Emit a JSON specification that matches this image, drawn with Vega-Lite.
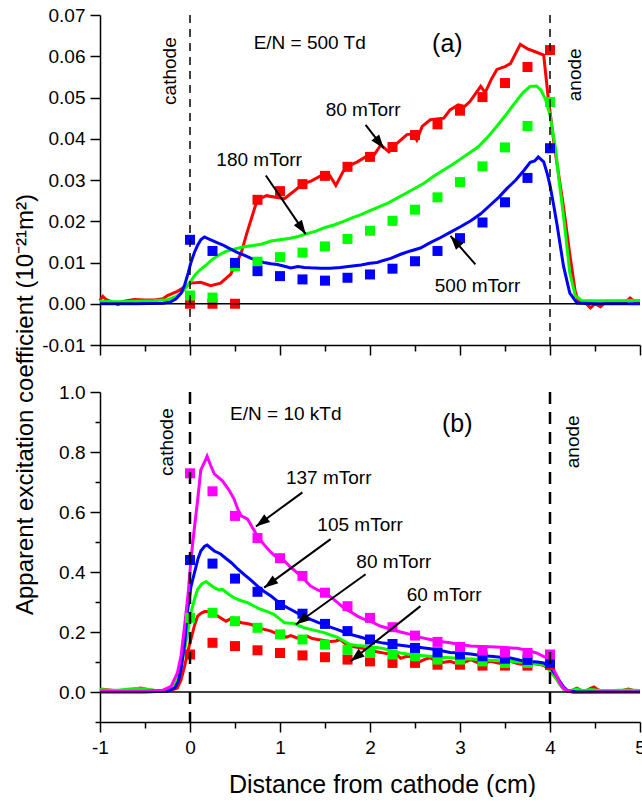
{
"$schema": "https://vega.github.io/schema/vega-lite/v6.json",
"padding": {"left": 13, "top": 6, "right": 0, "bottom": 0},
"spacing": 47,
"bounds": "flush",
"config": {
 "view": {"stroke": null},
 "axis": {"labelFont": "Liberation Sans", "labelFontSize": 19, "labelColor": "black", "titleFont": "Liberation Sans", "titleFontSize": 24, "titleFontWeight": "normal", "titleColor": "black", "domainColor": "black", "tickColor": "black", "domainWidth": 1.5, "tickWidth": 1.5, "grid": false, "labelPadding": 5, "labelOverlap": false, "labelFlush": false, "labelBound": false},
 "text": {"font": "Liberation Sans", "fontSize": 19, "color": "black"}
},
"datasets": {
 "a_line": [
  {"s":"a80","x":-1.0,"y":0.0008},{"s":"a80","x":-0.97,"y":0.0018},{"s":"a80","x":-0.93,"y":0.001},{"s":"a80","x":-0.85,"y":0.0003},{"s":"a80","x":-0.8,"y":-0.0002},{"s":"a80","x":-0.73,"y":0.0006},{"s":"a80","x":-0.62,"y":0.001},{"s":"a80","x":-0.5,"y":0.0009},{"s":"a80","x":-0.39,"y":0.0009},{"s":"a80","x":-0.3,"y":0.0012},{"s":"a80","x":-0.25,"y":0.002},{"s":"a80","x":-0.14,"y":0.003},{"s":"a80","x":-0.05,"y":0.0042},{"s":"a80","x":0.01,"y":0.005},{"s":"a80","x":0.12,"y":0.0052},{"s":"a80","x":0.23,"y":0.0044},{"s":"a80","x":0.34,"y":0.005},{"s":"a80","x":0.45,"y":0.0071},{"s":"a80","x":0.52,"y":0.01},{"s":"a80","x":0.57,"y":0.0124},{"s":"a80","x":0.63,"y":0.017},{"s":"a80","x":0.68,"y":0.0205},{"s":"a80","x":0.73,"y":0.024},{"s":"a80","x":0.77,"y":0.0254},{"s":"a80","x":0.85,"y":0.0262},{"s":"a80","x":0.95,"y":0.0258},{"s":"a80","x":1.05,"y":0.0255},{"s":"a80","x":1.15,"y":0.0272},{"s":"a80","x":1.25,"y":0.029},{"s":"a80","x":1.35,"y":0.0298},{"s":"a80","x":1.45,"y":0.031},{"s":"a80","x":1.55,"y":0.0312},{"s":"a80","x":1.62,"y":0.0287},{"s":"a80","x":1.7,"y":0.032},{"s":"a80","x":1.75,"y":0.0333},{"s":"a80","x":1.86,"y":0.0344},{"s":"a80","x":1.95,"y":0.0356},{"s":"a80","x":2.05,"y":0.0362},{"s":"a80","x":2.12,"y":0.0385},{"s":"a80","x":2.21,"y":0.0368},{"s":"a80","x":2.3,"y":0.0389},{"s":"a80","x":2.41,"y":0.041},{"s":"a80","x":2.48,"y":0.0412},{"s":"a80","x":2.52,"y":0.0397},{"s":"a80","x":2.58,"y":0.043},{"s":"a80","x":2.67,"y":0.0446},{"s":"a80","x":2.82,"y":0.045},{"s":"a80","x":2.89,"y":0.047},{"s":"a80","x":2.98,"y":0.0482},{"s":"a80","x":3.05,"y":0.0478},{"s":"a80","x":3.11,"y":0.049},{"s":"a80","x":3.23,"y":0.0527},{"s":"a80","x":3.28,"y":0.0512},{"s":"a80","x":3.35,"y":0.0545},{"s":"a80","x":3.41,"y":0.0568},{"s":"a80","x":3.5,"y":0.0575},{"s":"a80","x":3.56,"y":0.0582},{"s":"a80","x":3.67,"y":0.0629},{"s":"a80","x":3.75,"y":0.0618},{"s":"a80","x":3.8,"y":0.0614},{"s":"a80","x":3.93,"y":0.0603},{"s":"a80","x":3.98,"y":0.05},{"s":"a80","x":4.05,"y":0.038},{"s":"a80","x":4.15,"y":0.0235},{"s":"a80","x":4.22,"y":0.012},{"s":"a80","x":4.28,"y":0.003},{"s":"a80","x":4.32,"y":0.0004},{"s":"a80","x":4.38,"y":0.0005},{"s":"a80","x":4.45,"y":-0.001},{"s":"a80","x":4.5,"y":0.0},{"s":"a80","x":4.56,"y":-0.0007},{"s":"a80","x":4.63,"y":0.0006},{"s":"a80","x":4.7,"y":0.0},{"s":"a80","x":4.77,"y":0.0005},{"s":"a80","x":4.83,"y":0.0002},{"s":"a80","x":4.89,"y":0.0014},{"s":"a80","x":4.95,"y":0.0003},{"s":"a80","x":5.0,"y":0.0004},
  {"s":"a180","x":-1.0,"y":0.0006},{"s":"a180","x":-0.8,"y":0.0005},{"s":"a180","x":-0.6,"y":0.0006},{"s":"a180","x":-0.4,"y":0.0007},{"s":"a180","x":-0.25,"y":0.001},{"s":"a180","x":-0.15,"y":0.0018},{"s":"a180","x":-0.08,"y":0.003},{"s":"a180","x":0.0,"y":0.0052},{"s":"a180","x":0.05,"y":0.0068},{"s":"a180","x":0.1,"y":0.008},{"s":"a180","x":0.17,"y":0.0092},{"s":"a180","x":0.25,"y":0.0108},{"s":"a180","x":0.32,"y":0.0118},{"s":"a180","x":0.4,"y":0.0127},{"s":"a180","x":0.5,"y":0.0133},{"s":"a180","x":0.6,"y":0.0138},{"s":"a180","x":0.7,"y":0.0141},{"s":"a180","x":0.8,"y":0.0145},{"s":"a180","x":0.9,"y":0.0152},{"s":"a180","x":1.0,"y":0.0155},{"s":"a180","x":1.1,"y":0.0158},{"s":"a180","x":1.2,"y":0.0163},{"s":"a180","x":1.3,"y":0.017},{"s":"a180","x":1.4,"y":0.0176},{"s":"a180","x":1.5,"y":0.0185},{"s":"a180","x":1.6,"y":0.0191},{"s":"a180","x":1.7,"y":0.0199},{"s":"a180","x":1.8,"y":0.0208},{"s":"a180","x":1.9,"y":0.0216},{"s":"a180","x":2.0,"y":0.0226},{"s":"a180","x":2.1,"y":0.0235},{"s":"a180","x":2.2,"y":0.0244},{"s":"a180","x":2.3,"y":0.0256},{"s":"a180","x":2.4,"y":0.0268},{"s":"a180","x":2.5,"y":0.028},{"s":"a180","x":2.6,"y":0.0292},{"s":"a180","x":2.7,"y":0.0308},{"s":"a180","x":2.8,"y":0.0322},{"s":"a180","x":2.9,"y":0.0335},{"s":"a180","x":3.0,"y":0.035},{"s":"a180","x":3.1,"y":0.0365},{"s":"a180","x":3.2,"y":0.038},{"s":"a180","x":3.3,"y":0.0402},{"s":"a180","x":3.4,"y":0.0428},{"s":"a180","x":3.5,"y":0.0455},{"s":"a180","x":3.6,"y":0.0484},{"s":"a180","x":3.7,"y":0.0512},{"s":"a180","x":3.78,"y":0.0527},{"s":"a180","x":3.85,"y":0.0528},{"s":"a180","x":3.9,"y":0.0518},{"s":"a180","x":3.95,"y":0.0495},{"s":"a180","x":4.0,"y":0.0458},{"s":"a180","x":4.06,"y":0.0377},{"s":"a180","x":4.1,"y":0.03},{"s":"a180","x":4.15,"y":0.0213},{"s":"a180","x":4.22,"y":0.0075},{"s":"a180","x":4.28,"y":0.002},{"s":"a180","x":4.35,"y":0.0008},{"s":"a180","x":4.5,"y":0.0007},{"s":"a180","x":4.7,"y":0.0007},{"s":"a180","x":5.0,"y":0.0008},
  {"s":"a500","x":-1.0,"y":0.0},{"s":"a500","x":-0.6,"y":0.0},{"s":"a500","x":-0.3,"y":0.0001},{"s":"a500","x":-0.22,"y":0.0004},{"s":"a500","x":-0.155,"y":0.0012},{"s":"a500","x":-0.1,"y":0.0025},{"s":"a500","x":-0.06,"y":0.0045},{"s":"a500","x":-0.02,"y":0.0075},{"s":"a500","x":0.01,"y":0.01},{"s":"a500","x":0.05,"y":0.0125},{"s":"a500","x":0.085,"y":0.0142},{"s":"a500","x":0.12,"y":0.0155},{"s":"a500","x":0.16,"y":0.0162},{"s":"a500","x":0.23,"y":0.0155},{"s":"a500","x":0.3,"y":0.0148},{"s":"a500","x":0.36,"y":0.0143},{"s":"a500","x":0.42,"y":0.0136},{"s":"a500","x":0.53,"y":0.0124},{"s":"a500","x":0.6,"y":0.0118},{"s":"a500","x":0.68,"y":0.011},{"s":"a500","x":0.75,"y":0.0104},{"s":"a500","x":0.82,"y":0.01},{"s":"a500","x":0.9,"y":0.0097},{"s":"a500","x":0.97,"y":0.0095},{"s":"a500","x":1.05,"y":0.0091},{"s":"a500","x":1.12,"y":0.0087},{"s":"a500","x":1.2,"y":0.009},{"s":"a500","x":1.27,"y":0.0088},{"s":"a500","x":1.34,"y":0.0087},{"s":"a500","x":1.45,"y":0.0086},{"s":"a500","x":1.56,"y":0.0086},{"s":"a500","x":1.67,"y":0.0088},{"s":"a500","x":1.78,"y":0.0091},{"s":"a500","x":1.9,"y":0.0094},{"s":"a500","x":2.0,"y":0.0098},{"s":"a500","x":2.08,"y":0.01},{"s":"a500","x":2.15,"y":0.0105},{"s":"a500","x":2.23,"y":0.011},{"s":"a500","x":2.34,"y":0.012},{"s":"a500","x":2.45,"y":0.0128},{"s":"a500","x":2.56,"y":0.0135},{"s":"a500","x":2.67,"y":0.0148},{"s":"a500","x":2.78,"y":0.016},{"s":"a500","x":2.89,"y":0.0173},{"s":"a500","x":3.0,"y":0.0186},{"s":"a500","x":3.12,"y":0.0201},{"s":"a500","x":3.23,"y":0.0218},{"s":"a500","x":3.34,"y":0.024},{"s":"a500","x":3.43,"y":0.0258},{"s":"a500","x":3.52,"y":0.0279},{"s":"a500","x":3.62,"y":0.03},{"s":"a500","x":3.71,"y":0.0323},{"s":"a500","x":3.78,"y":0.0343},{"s":"a500","x":3.83,"y":0.0346},{"s":"a500","x":3.87,"y":0.0356},{"s":"a500","x":3.93,"y":0.0344},{"s":"a500","x":3.97,"y":0.0315},{"s":"a500","x":4.0,"y":0.0287},{"s":"a500","x":4.04,"y":0.024},{"s":"a500","x":4.08,"y":0.0189},{"s":"a500","x":4.15,"y":0.0091},{"s":"a500","x":4.22,"y":0.0026},{"s":"a500","x":4.3,"y":0.0002},{"s":"a500","x":4.5,"y":0.0},{"s":"a500","x":5.0,"y":0.0}
 ],
 "a_pts": [
  {"s":"a80","x":0,"y":0},{"s":"a80","x":0.25,"y":0},{"s":"a80","x":0.5,"y":0},{"s":"a80","x":0.75,"y":0.0252},{"s":"a80","x":1.0,"y":0.0273},{"s":"a80","x":1.25,"y":0.029},{"s":"a80","x":1.5,"y":0.031},{"s":"a80","x":1.75,"y":0.0332},{"s":"a80","x":2.0,"y":0.0356},{"s":"a80","x":2.25,"y":0.038},{"s":"a80","x":2.5,"y":0.0409},{"s":"a80","x":2.75,"y":0.0435},{"s":"a80","x":3.0,"y":0.0468},{"s":"a80","x":3.25,"y":0.0501},{"s":"a80","x":3.5,"y":0.0535},{"s":"a80","x":3.75,"y":0.0574},{"s":"a80","x":4.0,"y":0.0615},
  {"s":"a180","x":0,"y":0.002},{"s":"a180","x":0.25,"y":0.0015},{"s":"a180","x":0.5,"y":0.0091},{"s":"a180","x":0.75,"y":0.0102},{"s":"a180","x":1.0,"y":0.0113},{"s":"a180","x":1.25,"y":0.0124},{"s":"a180","x":1.5,"y":0.0139},{"s":"a180","x":1.75,"y":0.0157},{"s":"a180","x":2.0,"y":0.0177},{"s":"a180","x":2.25,"y":0.0201},{"s":"a180","x":2.5,"y":0.0228},{"s":"a180","x":2.75,"y":0.0258},{"s":"a180","x":3.0,"y":0.0295},{"s":"a180","x":3.25,"y":0.0333},{"s":"a180","x":3.5,"y":0.0379},{"s":"a180","x":3.75,"y":0.0431},{"s":"a180","x":4.0,"y":0.0489},
  {"s":"a500","x":0,"y":0.0155},{"s":"a500","x":0.25,"y":0.0128},{"s":"a500","x":0.5,"y":0.0099},{"s":"a500","x":0.75,"y":0.0079},{"s":"a500","x":1.0,"y":0.0067},{"s":"a500","x":1.25,"y":0.0059},{"s":"a500","x":1.5,"y":0.0056},{"s":"a500","x":1.75,"y":0.0063},{"s":"a500","x":2.0,"y":0.0071},{"s":"a500","x":2.25,"y":0.0085},{"s":"a500","x":2.5,"y":0.0103},{"s":"a500","x":2.75,"y":0.0128},{"s":"a500","x":3.0,"y":0.0159},{"s":"a500","x":3.25,"y":0.0197},{"s":"a500","x":3.5,"y":0.0246},{"s":"a500","x":3.75,"y":0.0305},{"s":"a500","x":4.0,"y":0.0377}
 ],
 "b_line": [
  {"s":"b60","x":-1.0,"y":0.01},{"s":"b60","x":-0.95,"y":0.008},{"s":"b60","x":-0.85,"y":0.005},{"s":"b60","x":-0.7,"y":0.006},{"s":"b60","x":-0.55,"y":0.013},{"s":"b60","x":-0.45,"y":0.007},{"s":"b60","x":-0.35,"y":0.004},{"s":"b60","x":-0.25,"y":0.006},{"s":"b60","x":-0.18,"y":0.009},{"s":"b60","x":-0.14,"y":0.013},{"s":"b60","x":-0.1,"y":0.04},{"s":"b60","x":-0.06,"y":0.086},{"s":"b60","x":-0.02,"y":0.14},{"s":"b60","x":0.01,"y":0.175},{"s":"b60","x":0.05,"y":0.222},{"s":"b60","x":0.085,"y":0.253},{"s":"b60","x":0.12,"y":0.262},{"s":"b60","x":0.16,"y":0.268},{"s":"b60","x":0.2,"y":0.268},{"s":"b60","x":0.25,"y":0.264},{"s":"b60","x":0.32,"y":0.251},{"s":"b60","x":0.4,"y":0.236},{"s":"b60","x":0.47,"y":0.247},{"s":"b60","x":0.52,"y":0.238},{"s":"b60","x":0.57,"y":0.231},{"s":"b60","x":0.63,"y":0.228},{"s":"b60","x":0.68,"y":0.225},{"s":"b60","x":0.74,"y":0.218},{"s":"b60","x":0.79,"y":0.211},{"s":"b60","x":0.85,"y":0.207},{"s":"b60","x":0.9,"y":0.203},{"s":"b60","x":0.96,"y":0.195},{"s":"b60","x":1.01,"y":0.186},{"s":"b60","x":1.07,"y":0.183},{"s":"b60","x":1.12,"y":0.188},{"s":"b60","x":1.19,"y":0.18},{"s":"b60","x":1.25,"y":0.178},{"s":"b60","x":1.3,"y":0.186},{"s":"b60","x":1.36,"y":0.178},{"s":"b60","x":1.42,"y":0.175},{"s":"b60","x":1.49,"y":0.172},{"s":"b60","x":1.56,"y":0.168},{"s":"b60","x":1.62,"y":0.17},{"s":"b60","x":1.67,"y":0.175},{"s":"b60","x":1.73,"y":0.16},{"s":"b60","x":1.78,"y":0.153},{"s":"b60","x":1.84,"y":0.15},{"s":"b60","x":1.9,"y":0.147},{"s":"b60","x":1.95,"y":0.143},{"s":"b60","x":2.0,"y":0.141},{"s":"b60","x":2.06,"y":0.135},{"s":"b60","x":2.12,"y":0.132},{"s":"b60","x":2.18,"y":0.128},{"s":"b60","x":2.23,"y":0.127},{"s":"b60","x":2.3,"y":0.124},{"s":"b60","x":2.34,"y":0.112},{"s":"b60","x":2.4,"y":0.118},{"s":"b60","x":2.45,"y":0.119},{"s":"b60","x":2.5,"y":0.11},{"s":"b60","x":2.56,"y":0.102},{"s":"b60","x":2.62,"y":0.11},{"s":"b60","x":2.67,"y":0.114},{"s":"b60","x":2.72,"y":0.105},{"s":"b60","x":2.78,"y":0.097},{"s":"b60","x":2.84,"y":0.1},{"s":"b60","x":2.89,"y":0.102},{"s":"b60","x":2.95,"y":0.096},{"s":"b60","x":3.0,"y":0.091},{"s":"b60","x":3.06,"y":0.1},{"s":"b60","x":3.12,"y":0.108},{"s":"b60","x":3.18,"y":0.1},{"s":"b60","x":3.23,"y":0.095},{"s":"b60","x":3.29,"y":0.098},{"s":"b60","x":3.34,"y":0.102},{"s":"b60","x":3.4,"y":0.098},{"s":"b60","x":3.45,"y":0.095},{"s":"b60","x":3.5,"y":0.099},{"s":"b60","x":3.56,"y":0.102},{"s":"b60","x":3.63,"y":0.096},{"s":"b60","x":3.71,"y":0.091},{"s":"b60","x":3.77,"y":0.094},{"s":"b60","x":3.82,"y":0.095},{"s":"b60","x":3.88,"y":0.092},{"s":"b60","x":3.93,"y":0.088},{"s":"b60","x":3.98,"y":0.078},{"s":"b60","x":4.02,"y":0.064},{"s":"b60","x":4.07,"y":0.045},{"s":"b60","x":4.11,"y":0.025},{"s":"b60","x":4.15,"y":0.01},{"s":"b60","x":4.2,"y":0.003},{"s":"b60","x":4.25,"y":0.006},{"s":"b60","x":4.3,"y":0.013},{"s":"b60","x":4.35,"y":0.005},{"s":"b60","x":4.4,"y":0.004},{"s":"b60","x":4.45,"y":0.012},{"s":"b60","x":4.49,"y":0.017},{"s":"b60","x":4.53,"y":0.008},{"s":"b60","x":4.58,"y":0.003},{"s":"b60","x":4.7,"y":0.002},{"s":"b60","x":4.8,"y":0.004},{"s":"b60","x":4.87,"y":0.01},{"s":"b60","x":4.92,"y":0.006},{"s":"b60","x":5.0,"y":0.004},
  {"s":"b80","x":-1.0,"y":0.008},{"s":"b80","x":-0.9,"y":0.006},{"s":"b80","x":-0.8,"y":0.006},{"s":"b80","x":-0.7,"y":0.009},{"s":"b80","x":-0.6,"y":0.012},{"s":"b80","x":-0.5,"y":0.01},{"s":"b80","x":-0.4,"y":0.006},{"s":"b80","x":-0.3,"y":0.005},{"s":"b80","x":-0.25,"y":0.01},{"s":"b80","x":-0.18,"y":0.022},{"s":"b80","x":-0.14,"y":0.041},{"s":"b80","x":-0.1,"y":0.085},{"s":"b80","x":-0.06,"y":0.141},{"s":"b80","x":-0.02,"y":0.21},{"s":"b80","x":0.01,"y":0.264},{"s":"b80","x":0.05,"y":0.31},{"s":"b80","x":0.085,"y":0.342},{"s":"b80","x":0.13,"y":0.36},{"s":"b80","x":0.18,"y":0.368},{"s":"b80","x":0.22,"y":0.358},{"s":"b80","x":0.27,"y":0.348},{"s":"b80","x":0.32,"y":0.34},{"s":"b80","x":0.36,"y":0.342},{"s":"b80","x":0.43,"y":0.326},{"s":"b80","x":0.49,"y":0.314},{"s":"b80","x":0.56,"y":0.305},{"s":"b80","x":0.64,"y":0.298},{"s":"b80","x":0.72,"y":0.285},{"s":"b80","x":0.79,"y":0.275},{"s":"b80","x":0.86,"y":0.268},{"s":"b80","x":0.93,"y":0.259},{"s":"b80","x":1.0,"y":0.243},{"s":"b80","x":1.05,"y":0.231},{"s":"b80","x":1.16,"y":0.228},{"s":"b80","x":1.22,"y":0.22},{"s":"b80","x":1.27,"y":0.214},{"s":"b80","x":1.35,"y":0.208},{"s":"b80","x":1.42,"y":0.203},{"s":"b80","x":1.49,"y":0.198},{"s":"b80","x":1.56,"y":0.19},{"s":"b80","x":1.64,"y":0.182},{"s":"b80","x":1.71,"y":0.17},{"s":"b80","x":1.78,"y":0.158},{"s":"b80","x":1.86,"y":0.155},{"s":"b80","x":1.93,"y":0.153},{"s":"b80","x":2.0,"y":0.15},{"s":"b80","x":2.08,"y":0.148},{"s":"b80","x":2.15,"y":0.145},{"s":"b80","x":2.23,"y":0.138},{"s":"b80","x":2.34,"y":0.13},{"s":"b80","x":2.45,"y":0.125},{"s":"b80","x":2.56,"y":0.122},{"s":"b80","x":2.67,"y":0.119},{"s":"b80","x":2.78,"y":0.116},{"s":"b80","x":2.89,"y":0.114},{"s":"b80","x":3.0,"y":0.112},{"s":"b80","x":3.12,"y":0.11},{"s":"b80","x":3.23,"y":0.108},{"s":"b80","x":3.34,"y":0.106},{"s":"b80","x":3.45,"y":0.104},{"s":"b80","x":3.56,"y":0.102},{"s":"b80","x":3.67,"y":0.1},{"s":"b80","x":3.78,"y":0.097},{"s":"b80","x":3.86,"y":0.094},{"s":"b80","x":3.93,"y":0.091},{"s":"b80","x":3.98,"y":0.08},{"s":"b80","x":4.02,"y":0.064},{"s":"b80","x":4.07,"y":0.045},{"s":"b80","x":4.11,"y":0.025},{"s":"b80","x":4.15,"y":0.01},{"s":"b80","x":4.2,"y":0.003},{"s":"b80","x":4.3,"y":0.01},{"s":"b80","x":4.37,"y":0.004},{"s":"b80","x":4.45,"y":0.008},{"s":"b80","x":4.55,"y":0.005},{"s":"b80","x":4.7,"y":0.005},{"s":"b80","x":4.85,"y":0.007},{"s":"b80","x":5.0,"y":0.005},
  {"s":"b105","x":-1.0,"y":0.0},{"s":"b105","x":-0.5,"y":0.0},{"s":"b105","x":-0.25,"y":0.003},{"s":"b105","x":-0.17,"y":0.013},{"s":"b105","x":-0.13,"y":0.035},{"s":"b105","x":-0.1,"y":0.075},{"s":"b105","x":-0.06,"y":0.16},{"s":"b105","x":-0.03,"y":0.264},{"s":"b105","x":0.01,"y":0.35},{"s":"b105","x":0.05,"y":0.398},{"s":"b105","x":0.09,"y":0.445},{"s":"b105","x":0.12,"y":0.47},{"s":"b105","x":0.16,"y":0.485},{"s":"b105","x":0.19,"y":0.49},{"s":"b105","x":0.23,"y":0.48},{"s":"b105","x":0.27,"y":0.47},{"s":"b105","x":0.34,"y":0.46},{"s":"b105","x":0.4,"y":0.445},{"s":"b105","x":0.46,"y":0.431},{"s":"b105","x":0.53,"y":0.41},{"s":"b105","x":0.6,"y":0.392},{"s":"b105","x":0.68,"y":0.372},{"s":"b105","x":0.75,"y":0.353},{"s":"b105","x":0.82,"y":0.336},{"s":"b105","x":0.9,"y":0.32},{"s":"b105","x":0.97,"y":0.303},{"s":"b105","x":1.05,"y":0.286},{"s":"b105","x":1.12,"y":0.275},{"s":"b105","x":1.19,"y":0.264},{"s":"b105","x":1.27,"y":0.252},{"s":"b105","x":1.34,"y":0.242},{"s":"b105","x":1.42,"y":0.232},{"s":"b105","x":1.49,"y":0.225},{"s":"b105","x":1.56,"y":0.216},{"s":"b105","x":1.64,"y":0.208},{"s":"b105","x":1.71,"y":0.2},{"s":"b105","x":1.78,"y":0.192},{"s":"b105","x":1.86,"y":0.186},{"s":"b105","x":1.93,"y":0.18},{"s":"b105","x":2.0,"y":0.173},{"s":"b105","x":2.08,"y":0.167},{"s":"b105","x":2.15,"y":0.163},{"s":"b105","x":2.23,"y":0.16},{"s":"b105","x":2.34,"y":0.156},{"s":"b105","x":2.45,"y":0.152},{"s":"b105","x":2.56,"y":0.148},{"s":"b105","x":2.67,"y":0.144},{"s":"b105","x":2.78,"y":0.138},{"s":"b105","x":2.89,"y":0.132},{"s":"b105","x":3.0,"y":0.13},{"s":"b105","x":3.12,"y":0.127},{"s":"b105","x":3.23,"y":0.122},{"s":"b105","x":3.34,"y":0.119},{"s":"b105","x":3.45,"y":0.116},{"s":"b105","x":3.56,"y":0.113},{"s":"b105","x":3.67,"y":0.106},{"s":"b105","x":3.78,"y":0.102},{"s":"b105","x":3.86,"y":0.1},{"s":"b105","x":3.93,"y":0.097},{"s":"b105","x":3.98,"y":0.087},{"s":"b105","x":4.02,"y":0.075},{"s":"b105","x":4.07,"y":0.055},{"s":"b105","x":4.11,"y":0.035},{"s":"b105","x":4.15,"y":0.017},{"s":"b105","x":4.2,"y":0.003},{"s":"b105","x":4.3,"y":0.0},{"s":"b105","x":5.0,"y":0.0},
  {"s":"b137","x":-1.0,"y":0.003},{"s":"b137","x":-0.8,"y":0.002},{"s":"b137","x":-0.5,"y":0.003},{"s":"b137","x":-0.3,"y":0.006},{"s":"b137","x":-0.21,"y":0.019},{"s":"b137","x":-0.14,"y":0.064},{"s":"b137","x":-0.1,"y":0.12},{"s":"b137","x":-0.06,"y":0.22},{"s":"b137","x":-0.02,"y":0.33},{"s":"b137","x":0.01,"y":0.44},{"s":"b137","x":0.05,"y":0.55},{"s":"b137","x":0.085,"y":0.64},{"s":"b137","x":0.12,"y":0.74},{"s":"b137","x":0.16,"y":0.765},{"s":"b137","x":0.19,"y":0.786},{"s":"b137","x":0.23,"y":0.755},{"s":"b137","x":0.27,"y":0.727},{"s":"b137","x":0.36,"y":0.704},{"s":"b137","x":0.43,"y":0.675},{"s":"b137","x":0.49,"y":0.643},{"s":"b137","x":0.53,"y":0.61},{"s":"b137","x":0.57,"y":0.587},{"s":"b137","x":0.64,"y":0.576},{"s":"b137","x":0.7,"y":0.545},{"s":"b137","x":0.75,"y":0.52},{"s":"b137","x":0.82,"y":0.492},{"s":"b137","x":0.9,"y":0.465},{"s":"b137","x":0.97,"y":0.447},{"s":"b137","x":1.05,"y":0.437},{"s":"b137","x":1.12,"y":0.415},{"s":"b137","x":1.19,"y":0.398},{"s":"b137","x":1.27,"y":0.375},{"s":"b137","x":1.34,"y":0.353},{"s":"b137","x":1.42,"y":0.34},{"s":"b137","x":1.49,"y":0.331},{"s":"b137","x":1.56,"y":0.318},{"s":"b137","x":1.64,"y":0.298},{"s":"b137","x":1.71,"y":0.28},{"s":"b137","x":1.78,"y":0.268},{"s":"b137","x":1.86,"y":0.253},{"s":"b137","x":1.93,"y":0.243},{"s":"b137","x":2.0,"y":0.236},{"s":"b137","x":2.12,"y":0.219},{"s":"b137","x":2.23,"y":0.21},{"s":"b137","x":2.34,"y":0.2},{"s":"b137","x":2.45,"y":0.192},{"s":"b137","x":2.56,"y":0.182},{"s":"b137","x":2.67,"y":0.175},{"s":"b137","x":2.78,"y":0.168},{"s":"b137","x":2.89,"y":0.164},{"s":"b137","x":3.0,"y":0.158},{"s":"b137","x":3.12,"y":0.153},{"s":"b137","x":3.23,"y":0.152},{"s":"b137","x":3.34,"y":0.151},{"s":"b137","x":3.45,"y":0.149},{"s":"b137","x":3.56,"y":0.147},{"s":"b137","x":3.64,"y":0.146},{"s":"b137","x":3.71,"y":0.141},{"s":"b137","x":3.78,"y":0.136},{"s":"b137","x":3.85,"y":0.13},{"s":"b137","x":3.92,"y":0.12},{"s":"b137","x":3.96,"y":0.114},{"s":"b137","x":4.0,"y":0.1},{"s":"b137","x":4.04,"y":0.075},{"s":"b137","x":4.08,"y":0.05},{"s":"b137","x":4.11,"y":0.03},{"s":"b137","x":4.15,"y":0.013},{"s":"b137","x":4.19,"y":0.004},{"s":"b137","x":4.26,"y":-0.002},{"s":"b137","x":4.4,"y":-0.002},{"s":"b137","x":4.6,"y":0.0},{"s":"b137","x":5.0,"y":0.0}
 ],
 "b_pts": [
  {"s":"b60","x":0,"y":0.125},{"s":"b60","x":0.25,"y":0.164},{"s":"b60","x":0.5,"y":0.153},{"s":"b60","x":0.75,"y":0.139},{"s":"b60","x":1.0,"y":0.13},{"s":"b60","x":1.25,"y":0.122},{"s":"b60","x":1.5,"y":0.116},{"s":"b60","x":1.75,"y":0.108},{"s":"b60","x":2.0,"y":0.102},{"s":"b60","x":2.25,"y":0.097},{"s":"b60","x":2.5,"y":0.097},{"s":"b60","x":2.75,"y":0.091},{"s":"b60","x":3.0,"y":0.091},{"s":"b60","x":3.25,"y":0.088},{"s":"b60","x":3.5,"y":0.088},{"s":"b60","x":3.75,"y":0.088},{"s":"b60","x":4.0,"y":0.09},
  {"s":"b80","x":0,"y":0.247},{"s":"b80","x":0.25,"y":0.264},{"s":"b80","x":0.5,"y":0.236},{"s":"b80","x":0.75,"y":0.214},{"s":"b80","x":1.0,"y":0.192},{"s":"b80","x":1.25,"y":0.175},{"s":"b80","x":1.5,"y":0.158},{"s":"b80","x":1.75,"y":0.141},{"s":"b80","x":2.0,"y":0.13},{"s":"b80","x":2.25,"y":0.125},{"s":"b80","x":2.5,"y":0.119},{"s":"b80","x":2.75,"y":0.108},{"s":"b80","x":3.0,"y":0.108},{"s":"b80","x":3.25,"y":0.102},{"s":"b80","x":3.5,"y":0.097},{"s":"b80","x":3.75,"y":0.097},{"s":"b80","x":4.0,"y":0.1},
  {"s":"b105","x":0,"y":0.44},{"s":"b105","x":0.25,"y":0.428},{"s":"b105","x":0.5,"y":0.378},{"s":"b105","x":0.75,"y":0.334},{"s":"b105","x":1.0,"y":0.29},{"s":"b105","x":1.25,"y":0.261},{"s":"b105","x":1.5,"y":0.227},{"s":"b105","x":1.75,"y":0.203},{"s":"b105","x":2.0,"y":0.175},{"s":"b105","x":2.25,"y":0.16},{"s":"b105","x":2.5,"y":0.147},{"s":"b105","x":2.75,"y":0.132},{"s":"b105","x":3.0,"y":0.125},{"s":"b105","x":3.25,"y":0.119},{"s":"b105","x":3.5,"y":0.111},{"s":"b105","x":3.75,"y":0.107},{"s":"b105","x":4.0,"y":0.097},
  {"s":"b137","x":0,"y":0.729},{"s":"b137","x":0.25,"y":0.669},{"s":"b137","x":0.5,"y":0.587},{"s":"b137","x":0.75,"y":0.513},{"s":"b137","x":1.0,"y":0.446},{"s":"b137","x":1.25,"y":0.387},{"s":"b137","x":1.5,"y":0.331},{"s":"b137","x":1.75,"y":0.286},{"s":"b137","x":2.0,"y":0.247},{"s":"b137","x":2.25,"y":0.216},{"s":"b137","x":2.5,"y":0.188},{"s":"b137","x":2.75,"y":0.167},{"s":"b137","x":3.0,"y":0.15},{"s":"b137","x":3.25,"y":0.138},{"s":"b137","x":3.5,"y":0.132},{"s":"b137","x":3.75,"y":0.13},{"s":"b137","x":4.0,"y":0.125}
 ],
 "a_txt": [
  {"t":"E/N = 500 Td","x":1.33,"y":0.0631},{"t":"80 mTorr","x":1.924,"y":0.047},{"t":"180 mTorr","x":0.768,"y":0.0348},{"t":"500 mTorr","x":3.195,"y":0.0044}
 ],
 "a_rot": [{"t":"cathode","x":-0.22,"y":0.0564},{"t":"anode","x":4.28,"y":0.0555}],
 "a_arr": [
  {"x":1.951,"y":0.04335,"x2":2.154,"y2":0.03765,"a":142.1},
  {"x":0.843,"y":0.0311,"x2":1.286,"y2":0.01687,"a":145.8},
  {"x":3.171,"y":0.00954,"x2":2.894,"y2":0.01645,"a":-41.1}
 ],
 "b_txt": [
  {"t":"E/N = 10 kTd","x":1.064,"y":0.926},{"t":"137 mTorr","x":1.541,"y":0.712},{"t":"105 mTorr","x":1.89,"y":0.557},{"t":"80 mTorr","x":2.265,"y":0.433},{"t":"60 mTorr","x":2.824,"y":0.322}
 ],
 "b_rot": [{"t":"cathode","x":-0.255,"y":0.833},{"t":"anode","x":4.26,"y":0.834}],
 "b_arr": [
  {"x":1.249,"y":0.6656,"x2":0.732,"y2":0.5518,"a":-126.3},
  {"x":1.563,"y":0.5094,"x2":0.824,"y2":0.3478,"a":-126.1},
  {"x":1.951,"y":0.3924,"x2":1.175,"y2":0.2251,"a":-125.7},
  {"x":2.561,"y":0.2863,"x2":1.785,"y2":0.1023,"a":-128.3}
 ],
 "electrodes": [{"x":0},{"x":4}]
},
"vconcat": [
 {
  "width": 540, "height": 330,
  "layer": [
   {
    "data": {"name": "a_line"},
    "mark": {"type": "line", "strokeWidth": 3},
    "encoding": {
     "x": {"field": "x", "type": "quantitative", "scale": {"domain": [-1, 5], "nice": false, "zero": false},
       "axis": {"title": null, "values": [-1,-0.5,0,0.5,1,1.5,2,2.5,3,3.5,4,4.5,5], "labels": false,
         "tickSize": {"condition": {"test": "datum.value % 1 === 0", "value": 10}, "value": 6}}},
     "y": {"field": "y", "type": "quantitative", "scale": {"domain": [-0.01, 0.07], "nice": false, "zero": false},
       "axis": {"title": "Apparent excitation coefficient (10⁻²¹m²)", "titleX": -75, "titleY": 389, "titleAngle": 270, "titleAlign": "center", "titleBaseline": "middle",
         "values": [-0.01,-0.005,0,0.005,0.01,0.015,0.02,0.025,0.03,0.035,0.04,0.045,0.05,0.055,0.06,0.065,0.07],
         "labelExpr": "abs(datum.value*100-round(datum.value*100))<0.01 ? (datum.value<0 ? '-' + format(-datum.value,'.2f') : format(datum.value,'.2f')) : ''",
         "tickSize": {"condition": {"test": "abs(datum.value*100-round(datum.value*100))<0.01", "value": 10}, "value": 5}}},
     "color": {"field": "s", "type": "nominal", "legend": null,
       "scale": {"domain": ["a80","a180","a500","b60","b80","b105","b137"], "range": ["#ff0000","#00ff00","#0000ff","#ff0000","#00ff00","#0000ff","#ff00ff"]}}
    }
   },
   {
    "data": {"name": "a_pts"},
    "mark": {"type": "square", "size": 100, "opacity": 1, "filled": true},
    "encoding": {"x": {"field": "x", "type": "quantitative"}, "y": {"field": "y", "type": "quantitative"}, "color": {"field": "s", "type": "nominal", "legend": null}}
   },
   {
    "data": {"name": "electrodes"},
    "mark": {"type": "rule", "color": "black", "strokeWidth": 1.5, "strokeDash": [8, 6]},
    "encoding": {"x": {"field": "x", "type": "quantitative"}}
   },
   {
    "data": {"values": [{"x": -1, "x2": 4.87, "y": 0}]},
    "mark": {"type": "rule", "color": "black", "strokeWidth": 1.5},
    "encoding": {"x": {"field": "x", "type": "quantitative"}, "x2": {"field": "x2"}, "y": {"field": "y", "type": "quantitative"}}
   },
   {
    "data": {"name": "a_arr"},
    "mark": {"type": "rule", "color": "black", "strokeWidth": 2},
    "encoding": {"x": {"field": "x", "type": "quantitative"}, "y": {"field": "y", "type": "quantitative"}, "x2": {"field": "x2"}, "y2": {"field": "y2"}}
   },
   {
    "data": {"name": "a_arr"},
    "mark": {"type": "point", "shape": "M0,0L-0.7,2L0.7,2Z", "size": 196, "filled": true, "color": "black", "opacity": 1},
    "encoding": {"x": {"field": "x2", "type": "quantitative"}, "y": {"field": "y2", "type": "quantitative"}, "angle": {"field": "a", "type": "quantitative", "scale": null}}
   },
   {
    "data": {"name": "a_txt"},
    "mark": {"type": "text", "align": "center", "baseline": "middle", "fontSize": 19},
    "encoding": {"x": {"field": "x", "type": "quantitative"}, "y": {"field": "y", "type": "quantitative"}, "text": {"field": "t"}}
   },
   {
    "data": {"name": "a_rot"},
    "mark": {"type": "text", "align": "center", "baseline": "middle", "fontSize": 19, "angle": 270},
    "encoding": {"x": {"field": "x", "type": "quantitative"}, "y": {"field": "y", "type": "quantitative"}, "text": {"field": "t"}}
   },
   {
    "data": {"values": [{"t": "(a)", "x": 2.86, "y": 0.0629}]},
    "mark": {"type": "text", "align": "center", "baseline": "middle", "fontSize": 25},
    "encoding": {"x": {"field": "x", "type": "quantitative"}, "y": {"field": "y", "type": "quantitative"}, "text": {"field": "t"}}
   }
  ]
 },
 {
  "width": 540, "height": 330,
  "resolve": {"axis": {"y": "independent"}},
  "layer": [
   {
    "data": {"name": "b_line"},
    "mark": {"type": "line", "strokeWidth": 3},
    "encoding": {
     "x": {"field": "x", "type": "quantitative", "scale": {"domain": [-1, 5], "nice": false, "zero": false},
       "axis": {"title": "Distance from cathode (cm)", "titleFontSize": 25, "titleX": 282, "titleY": 62, "titleBaseline": "middle", "titleAlign": "center", "values": [-1,-0.5,0,0.5,1,1.5,2,2.5,3,3.5,4,4.5,5],
         "labelExpr": "datum.value % 1 === 0 ? '' + datum.value : ''", "labelPadding": 6,
         "tickSize": {"condition": {"test": "datum.value % 1 === 0", "value": 10}, "value": 6}}},
     "y": {"field": "y", "type": "quantitative", "scale": {"domain": [-0.1, 1.0], "nice": false, "zero": false},
       "axis": {"title": null, "orient": "left", "values": [0, 0.2, 0.4, 0.6, 0.8, 1], "format": ".1f", "tickSize": 10}},
     "color": {"field": "s", "type": "nominal", "legend": null,
       "scale": {"domain": ["a80","a180","a500","b60","b80","b105","b137"], "range": ["#ff0000","#00ff00","#0000ff","#ff0000","#00ff00","#0000ff","#ff00ff"]}}
    }
   },
   {
    "data": {"name": "b_pts"},
    "mark": {"type": "square", "size": 100, "opacity": 1, "filled": true},
    "encoding": {"x": {"field": "x", "type": "quantitative"},
      "y": {"field": "y", "type": "quantitative", "axis": {"title": null, "orient": "left", "values": [-0.1, 0.1, 0.3, 0.5, 0.7, 0.9], "labels": false, "tickSize": 5, "domain": false}},
      "color": {"field": "s", "type": "nominal", "legend": null}}
   },
   {
    "data": {"name": "electrodes"},
    "mark": {"type": "rule", "color": "black", "strokeWidth": 2.5, "strokeDash": [12, 8]},
    "encoding": {"x": {"field": "x", "type": "quantitative"}}
   },
   {
    "data": {"values": [{"x": -1, "x2": 5, "y": 0}]},
    "mark": {"type": "rule", "color": "black", "strokeWidth": 1.5},
    "encoding": {"x": {"field": "x", "type": "quantitative"}, "x2": {"field": "x2"}, "y": {"field": "y", "type": "quantitative", "axis": null}}
   },
   {
    "data": {"name": "b_arr"},
    "mark": {"type": "rule", "color": "black", "strokeWidth": 2},
    "encoding": {"x": {"field": "x", "type": "quantitative"}, "y": {"field": "y", "type": "quantitative", "axis": null}, "x2": {"field": "x2"}, "y2": {"field": "y2"}}
   },
   {
    "data": {"name": "b_arr"},
    "mark": {"type": "point", "shape": "M0,0L-0.7,2L0.7,2Z", "size": 196, "filled": true, "color": "black", "opacity": 1},
    "encoding": {"x": {"field": "x2", "type": "quantitative"}, "y": {"field": "y2", "type": "quantitative", "axis": null}, "angle": {"field": "a", "type": "quantitative", "scale": null}}
   },
   {
    "data": {"name": "b_txt"},
    "mark": {"type": "text", "align": "center", "baseline": "middle", "fontSize": 19},
    "encoding": {"x": {"field": "x", "type": "quantitative"}, "y": {"field": "y", "type": "quantitative", "axis": null}, "text": {"field": "t"}}
   },
   {
    "data": {"name": "b_rot"},
    "mark": {"type": "text", "align": "center", "baseline": "middle", "fontSize": 19, "angle": 270},
    "encoding": {"x": {"field": "x", "type": "quantitative"}, "y": {"field": "y", "type": "quantitative", "axis": null}, "text": {"field": "t"}}
   },
   {
    "data": {"values": [{"t": "(b)", "x": 2.97, "y": 0.894}]},
    "mark": {"type": "text", "align": "center", "baseline": "middle", "fontSize": 25},
    "encoding": {"x": {"field": "x", "type": "quantitative"}, "y": {"field": "y", "type": "quantitative", "axis": null}, "text": {"field": "t"}}
   }
  ]
 }
]
}
